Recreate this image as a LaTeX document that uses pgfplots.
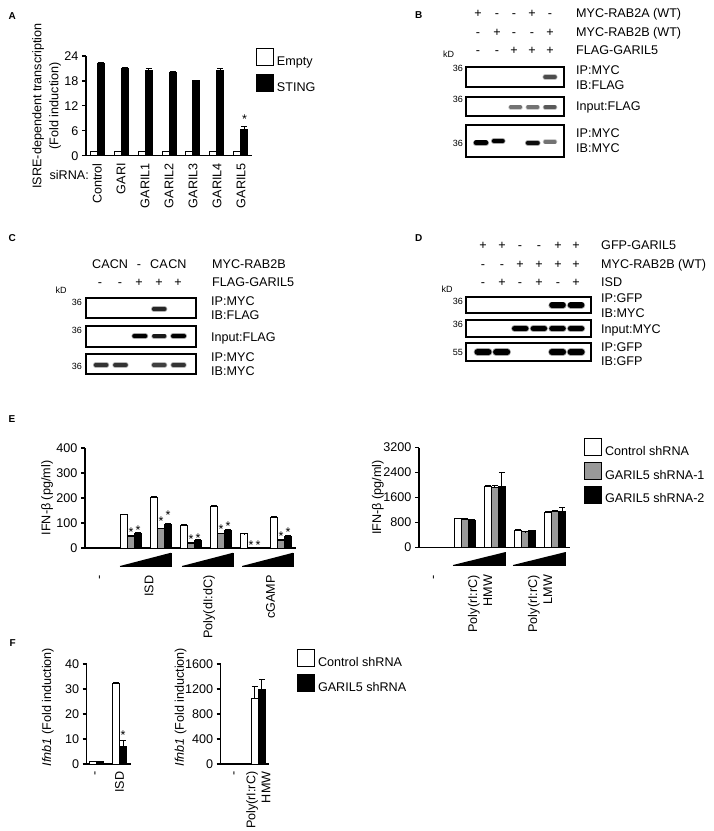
\documentclass[border=0pt]{standalone}
\usepackage{fontspec}
\setmainfont{Liberation Sans}
\usepackage{pgfplots}
\usepackage{pgfplotstable}
\pgfplotsset{compat=1.18}
\newcommand\fs{\fontsize{12.6}{15}\selectfont}
\newcommand\fss{\fontsize{9}{10}\selectfont}
\newcommand\fsl{\fontsize{10}{12}\selectfont\bfseries}

\pgfplotsset{
  bx/.style={
    scale only axis, axis lines*=left,
    axis line style={-, line width=1.2pt},
    tick style={black, line width=1.2pt},
    xtick style={draw=none},
    major tick length=4pt, tick align=outside,
    tick label style={font=\fs},
    label style={font=\fs},
    /pgf/number format/assume math mode=true,
    /pgf/number format/1000 sep={},
    scaled y ticks=false,
    clip=false, ymin=0,
    legend style={draw=none, fill=none, inner sep=0pt, outer sep=0pt, anchor=north west, font=\fs, column sep=1pt, cells={anchor=west}},
  },
  wb/.style={ybar, bar width=7pt, fill=white, draw=black, line width=1pt,
    legend image code/.code={\draw[fill=white,draw=black,line width=1pt](0pt,-4pt) rectangle (17pt,13pt);}},
  gb/.style={ybar, bar width=7pt, fill=black!40, draw=black, line width=1pt,
    legend image code/.code={\draw[fill=black!40,draw=black,line width=1pt](0pt,-4pt) rectangle (17pt,13pt);}},
  kb/.style={ybar, bar width=7pt, fill=black, draw=black, line width=1pt,
    legend image code/.code={\draw[fill=black,draw=black,line width=1pt](0pt,-4pt) rectangle (17pt,13pt);}},
  eb/.style={error bars/y dir=plus, error bars/y explicit,
    error bars/error bar style={line width=1pt,black,solid,xshift=#1},
    error bars/error mark options={rotate=90, mark size=3pt, line width=1pt, black, solid}},
  blot/.style={scale only axis, ticks=none, axis line style={line width=1.2pt}, ymin=0, ymax=1, clip=true},
}
% band: x1 x2 y darkness width
\newcommand\band[5]{%
  \addplot[mark=none, line cap=round, line width=#5pt, black!#4, opacity=0.35, forget plot] coordinates {(#1,#3) (#2,#3)};
  \addplot[mark=none, line cap=round, line width=#5pt-1.6pt, black!#4, forget plot] coordinates {(#1,#3) (#2,#3)};}

\pgfplotstableread{
x w we k ke
0 1.0 0 22.2 0.2
1 1.0 0 21.1 0.2
2 0.9 0 20.5 0.5
3 1.0 0 20.1 0.2
4 0.9 0 18.0 0.2
5 1.0 0 20.5 0.5
6 1.0 0 6.4 0.6
}\tA

\pgfplotstableread{
x w we g ge k ke
1 133 3 48 3 60 2
2 204 2 77 3 95 3
3 91 2 17 5 31 4
4 167 3 57 3 71 2
5 57 1 0 0 0 0
6 124 2 31 3 48 2
}\tEL

\pgfplotstableread{
x w we g ge k ke
1 928 10 896 40 875 10
2 1963 20 1920 50 1941 450
3 555 10 501 10 533 10
4 1120 45 1141 45 1163 110
}\tER

\pgfplotstableread{
x w we k ke
0 1.0 0.1 1.1 0.1
1 32.2 0.3 7.0 2.4
}\tFL

\pgfplotstableread{
x w we k ke
0 1 0 1 0
1 1051 192 1200 160
}\tFR

\begin{document}
\begin{tikzpicture}[font=\fs]
\path[use as bounding box] (0pt,0pt) rectangle (714pt,-831pt);

% ---------------- Panel A
\node[font=\fsl, anchor=base west, inner sep=0] at (8.5pt,-19pt) {A};
\begin{axis}[bx, at={(86pt,-155.7pt)}, anchor=south west, width=166pt, height=99.7pt,
  xmin=-0.46, xmax=6.46, ymax=24, ytick={0,6,12,18,24},
  xtick={0,...,6}, xticklabels={Control,GARI,GARIL1,GARIL2,GARIL3,GARIL4,GARIL5},
  xticklabel style={rotate=90, anchor=east},
  ylabel={ISRE-dependent transcription\\(Fold induction)},
  ylabel style={align=center, font=\fontsize{12.6}{17}\selectfont, at={(axis description cs:-0.238,0.5)}, anchor=center},
  legend style={at={(axis description cs:1.024,1.08)}, row sep=5.5pt},
]
\addplot[wb, bar shift=-3.5pt, eb=-3.5pt] table[x=x, y=w, y error=we] \tA;
\addplot[kb, bar shift=3.5pt, eb=3.5pt] table[x=x, y=k, y error=ke] \tA;
\legend{Empty, STING}
\end{axis}
\node[anchor=base east, inner sep=0] at (89pt,-179.5pt) {siRNA:};
\node[anchor=north, inner sep=0] at (244.5pt,-115pt) {*};

% ---------------- Panel B
\node[font=\fsl, anchor=base west, inner sep=0] at (415pt,-18.6pt) {B};
\foreach \x/\s in {478/+,497/-,514/-,532/+,550/-} \node[anchor=base, inner sep=0] at (\x pt,-17.5pt) {\s};
\foreach \x/\s in {478/-,497/+,514/-,532/-,550/+} \node[anchor=base, inner sep=0] at (\x pt,-36.5pt) {\s};
\foreach \x/\s in {478/-,497/-,514/+,532/+,550/+} \node[anchor=base, inner sep=0] at (\x pt,-54.5pt) {\s};
\node[anchor=base west, inner sep=0] at (576pt,-17.5pt) {MYC-RAB2A (WT)};
\node[anchor=base west, inner sep=0] at (576pt,-36.5pt) {MYC-RAB2B (WT)};
\node[anchor=base west, inner sep=0] at (576pt,-54.5pt) {FLAG-GARIL5};
\node[font=\fss, anchor=base, inner sep=0] at (448.5pt,-57.2pt) {kD};
\node[font=\fss, anchor=base east, inner sep=0] at (463pt,-71.2pt) {36};
\node[font=\fss, anchor=base east, inner sep=0] at (463pt,-102.2pt) {36};
\node[font=\fss, anchor=base east, inner sep=0] at (463pt,-146.2pt) {36};
\node[anchor=base west, inner sep=0] at (576pt,-74.5pt) {IP:MYC};
\node[anchor=base west, inner sep=0] at (576pt,-89.5pt) {IB:FLAG};
\node[anchor=base west, inner sep=0] at (576pt,-110.5pt) {Input:FLAG};
\node[anchor=base west, inner sep=0] at (576pt,-137.5pt) {IP:MYC};
\node[anchor=base west, inner sep=0] at (576pt,-152.5pt) {IB:MYC};
\begin{axis}[blot, at={(466pt,-87pt)}, anchor=south west, width=98pt, height=20pt, xmin=0.13, xmax=5.81]
\band{4.72}{5.28}{0.5}{70}{5.5}
\end{axis}
\begin{axis}[blot, at={(466pt,-116pt)}, anchor=south west, width=98pt, height=19pt, xmin=0.13, xmax=5.81]
\band{2.72}{3.28}{0.47}{55}{5}
\band{3.72}{4.28}{0.47}{55}{5}
\band{4.72}{5.28}{0.47}{65}{5}
\end{axis}
\begin{axis}[blot, at={(466pt,-157pt)}, anchor=south west, width=98pt, height=32pt, xmin=0.13, xmax=5.81]
\band{0.72}{1.28}{0.44}{100}{6.5}
\band{1.75}{2.25}{0.5}{100}{6}
\band{3.72}{4.28}{0.44}{95}{6}
\band{4.72}{5.28}{0.47}{55}{5}
\end{axis}

% ---------------- Panel C
\node[font=\fsl, anchor=base west, inner sep=0] at (8.5pt,-241.3pt) {C};
\foreach \x/\s in {101/CA,119/CN,139/-,159/CA,177.5/CN} \node[anchor=base, inner sep=0] at (\x pt,-268.5pt) {\s};
\foreach \x/\s in {100/-,120/-,139/+,159/+,178/+} \node[anchor=base, inner sep=0] at (\x pt,-286.5pt) {\s};
\node[anchor=base west, inner sep=0] at (212pt,-268.5pt) {MYC-RAB2B};
\node[anchor=base west, inner sep=0] at (212pt,-286.5pt) {FLAG-GARIL5};
\node[font=\fss, anchor=base, inner sep=0] at (61pt,-293.2pt) {kD};
\node[font=\fss, anchor=base east, inner sep=0] at (82pt,-305.2pt) {36};
\node[font=\fss, anchor=base east, inner sep=0] at (82pt,-333.2pt) {36};
\node[font=\fss, anchor=base east, inner sep=0] at (82pt,-369.2pt) {36};
\node[anchor=base west, inner sep=0] at (211pt,-305.5pt) {IP:MYC};
\node[anchor=base west, inner sep=0] at (211pt,-319.5pt) {IB:FLAG};
\node[anchor=base west, inner sep=0] at (211pt,-341.5pt) {Input:FLAG};
\node[anchor=base west, inner sep=0] at (211pt,-361.5pt) {IP:MYC};
\node[anchor=base west, inner sep=0] at (211pt,-375.5pt) {IB:MYC};
\begin{axis}[blot, at={(86pt,-318pt)}, anchor=south west, width=110pt, height=20pt, xmin=0.22, xmax=5.9]
\band{3.72}{4.28}{0.45}{85}{5.5}
\end{axis}
\begin{axis}[blot, at={(86pt,-347pt)}, anchor=south west, width=110pt, height=21pt, xmin=0.22, xmax=5.9]
\band{2.72}{3.28}{0.52}{100}{6}
\band{3.72}{4.28}{0.52}{90}{5}
\band{4.72}{5.28}{0.52}{100}{6}
\end{axis}
\begin{axis}[blot, at={(86pt,-374pt)}, anchor=south west, width=110pt, height=20pt, xmin=0.22, xmax=5.9]
\band{0.72}{1.28}{0.45}{80}{5.5}
\band{1.72}{2.28}{0.45}{80}{5.5}
\band{3.72}{4.28}{0.45}{75}{5.5}
\band{4.72}{5.28}{0.45}{80}{5.5}
\end{axis}

% ---------------- Panel D
\node[font=\fsl, anchor=base west, inner sep=0] at (415pt,-241.3pt) {D};
\foreach \x/\s in {483/+,502/+,520/-,539/-,558/+,576/+} \node[anchor=base, inner sep=0] at (\x pt,-249.5pt) {\s};
\foreach \x/\s in {483/-,502/-,520/+,539/+,558/+,576/+} \node[anchor=base, inner sep=0] at (\x pt,-268.5pt) {\s};
\foreach \x/\s in {483/-,502/+,520/-,539/+,558/-,576/+} \node[anchor=base, inner sep=0] at (\x pt,-286.5pt) {\s};
\node[anchor=base west, inner sep=0] at (601pt,-249.5pt) {GFP-GARIL5};
\node[anchor=base west, inner sep=0] at (601pt,-268.5pt) {MYC-RAB2B (WT)};
\node[anchor=base west, inner sep=0] at (601pt,-286.5pt) {ISD};
\node[font=\fss, anchor=base, inner sep=0] at (447pt,-292.2pt) {kD};
\node[font=\fss, anchor=base east, inner sep=0] at (463pt,-304.2pt) {36};
\node[font=\fss, anchor=base east, inner sep=0] at (463pt,-327.2pt) {36};
\node[font=\fss, anchor=base east, inner sep=0] at (463pt,-355.2pt) {55};
\node[anchor=base west, inner sep=0] at (601pt,-302.5pt) {IP:GFP};
\node[anchor=base west, inner sep=0] at (601pt,-317.5pt) {IB:MYC};
\node[anchor=base west, inner sep=0] at (601pt,-333.5pt) {Input:MYC};
\node[anchor=base west, inner sep=0] at (601pt,-351.5pt) {IP:GFP};
\node[anchor=base west, inner sep=0] at (601pt,-365.5pt) {IB:GFP};
\begin{axis}[blot, at={(466pt,-313pt)}, anchor=south west, width=125pt, height=16pt, xmin=0.086, xmax=6.8]
\band{4.7}{5.3}{0.5}{100}{7}
\band{5.7}{6.3}{0.5}{100}{7}
\end{axis}
\begin{axis}[blot, at={(466pt,-337pt)}, anchor=south west, width=125pt, height=17pt, xmin=0.086, xmax=6.8]
\band{2.7}{3.3}{0.5}{100}{7}
\band{3.7}{4.3}{0.5}{100}{7}
\band{4.7}{5.3}{0.5}{100}{7}
\band{5.7}{6.3}{0.5}{100}{7}
\end{axis}
\begin{axis}[blot, at={(466pt,-361pt)}, anchor=south west, width=125pt, height=18pt, xmin=0.086, xmax=6.8]
\band{0.7}{1.3}{0.5}{100}{7.5}
\band{1.7}{2.3}{0.5}{100}{7.5}
\band{4.7}{5.3}{0.5}{100}{7.5}
\band{5.7}{6.3}{0.5}{100}{7.5}
\end{axis}

% ---------------- Panel E left
\node[font=\fsl, anchor=base west, inner sep=0] at (8.5pt,-422.6pt) {E};
\begin{axis}[bx, at={(85pt,-548pt)}, anchor=south west, width=211pt, height=100pt,
  xmin=-0.533, xmax=6.5, ymax=400, ytick={0,100,200,300,400},
  xtick={0,1.6,3.6,5.65}, xticklabels={-,ISD,Poly(dI:dC),cGAMP},
  xticklabel style={rotate=90, anchor=east}, xticklabel shift=20pt,
  ylabel={IFN-β (pg/ml)}, ylabel style={at={(axis description cs:-0.18,0.5)}, anchor=center},
]
\addplot[wb, bar shift=-7pt, eb=-7pt] table[x=x, y=w, y error=we] \tEL;
\addplot[gb, bar shift=0pt, eb=0pt] table[x=x, y=g, y error=ge] \tEL;
\addplot[kb, bar shift=7pt, eb=7pt] table[x=x, y=k, y error=ke] \tEL;
\addplot[fill=black, draw=black, line width=0.4pt, mark=none, forget plot] coordinates {(0.63,-72) (2.33,-72) (2.33,-19)};
\addplot[fill=black, draw=black, line width=0.4pt, mark=none, forget plot] coordinates {(2.7,-72) (4.4,-72) (4.4,-19)};
\addplot[fill=black, draw=black, line width=0.4pt, mark=none, forget plot] coordinates {(4.7,-72) (6.4,-72) (6.4,-19)};
\end{axis}
\foreach \x/\y in {131/527.5,138/525.5,161/516.5,168/510.5,191/534.5,198/533.5,221/524.5,228/521.5,251/540.5,258/540.5,281/531.5,288/527.5}
  \node[anchor=north, inner sep=0] at (\x pt,-\y pt) {*};

% ---------------- Panel E right
\begin{axis}[bx, at={(419pt,-547.5pt)}, anchor=south west, width=151pt, height=100pt,
  xmin=-0.533, xmax=4.5, ymax=3200, ytick={0,800,1600,2400,3200},
  xtick={0,1.5,3.5}, xticklabels={-,{Poly(rI:rC)\\HMW},{Poly(rI:rC)\\LMW}},
  xticklabel style={rotate=90, anchor=east, align=right}, xticklabel shift=20pt,
  ylabel={IFN-β (pg/ml)}, ylabel style={at={(axis description cs:-0.272,0.5)}, anchor=center},
  legend style={at={(axis description cs:1.093,1.095)}, row sep=3pt},
]
\addplot[wb, bar shift=-7pt, eb=-7pt] table[x=x, y=w, y error=we] \tER;
\addplot[gb, bar shift=0pt, eb=0pt] table[x=x, y=g, y error=ge] \tER;
\addplot[kb, bar shift=7pt, eb=7pt] table[x=x, y=k, y error=ke] \tER;
\addplot[fill=black, draw=black, line width=0.4pt, mark=none, forget plot] coordinates {(0.6,-560) (2.33,-560) (2.33,-150)};
\addplot[fill=black, draw=black, line width=0.4pt, mark=none, forget plot] coordinates {(2.6,-560) (4.33,-560) (4.33,-150)};
\legend{Control shRNA, GARIL5 shRNA-1, GARIL5 shRNA-2}
\end{axis}

% ---------------- Panel F left
\node[font=\fsl, anchor=base west, inner sep=0] at (9.5pt,-646.6pt) {F};
\begin{axis}[bx, at={(86.7pt,-764pt)}, anchor=south west, width=44.3pt, height=100pt,
  xmin=-0.43, xmax=1.5, ymax=40, ytick={0,10,20,30,40},
  xtick={0,1}, xticklabels={-,ISD},
  xticklabel style={rotate=90, anchor=east},
  ylabel={\textit{Ifnb1} (Fold induction)}, ylabel style={at={(axis description cs:-0.874,0.57)}, anchor=center},
]
\addplot[wb, bar shift=-3.5pt, eb=-3.5pt] table[x=x, y=w, y error=we] \tFL;
\addplot[kb, bar shift=3.5pt, eb=3.5pt] table[x=x, y=k, y error=ke] \tFL;
\end{axis}
\node[anchor=north, inner sep=0] at (123pt,-730.5pt) {*};

% ---------------- Panel F right
\begin{axis}[bx, at={(220.7pt,-764pt)}, anchor=south west, width=48.3pt, height=100pt,
  xmin=-0.64, xmax=1.46, ymax=1600, ytick={0,400,800,1200,1600},
  xtick={0,1}, xticklabels={-,{Poly(rI:rC)\\HMW}},
  xticklabel style={rotate=90, anchor=east, align=right},
  ylabel={\textit{Ifnb1} (Fold induction)}, ylabel style={at={(axis description cs:-0.83,0.57)}, anchor=center},
  legend style={at={(axis description cs:1.58,1.15)}, row sep=4pt},
]
\addplot[wb, bar shift=-3.5pt, eb=-3.5pt] table[x=x, y=w, y error=we] \tFR;
\addplot[kb, bar shift=3.5pt, eb=3.5pt] table[x=x, y=k, y error=ke] \tFR;
\legend{Control shRNA, GARIL5 shRNA}
\end{axis}
\end{tikzpicture}
\end{document}
